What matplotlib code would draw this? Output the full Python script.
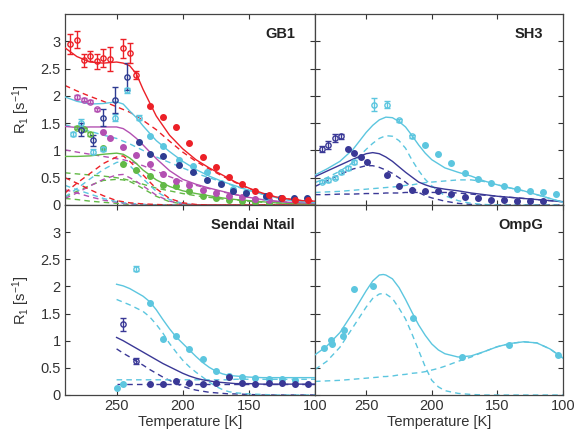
import matplotlib
matplotlib.use("Agg")
import matplotlib.pyplot as plt
import numpy as np

plt.rcParams['font.family'] = ['Liberation Sans', 'DejaVu Sans']
plt.rcParams['mathtext.fontset'] = 'custom'
plt.rcParams['mathtext.rm'] = 'Liberation Sans'
plt.rcParams['mathtext.it'] = 'Liberation Sans:italic'
plt.rcParams['mathtext.bf'] = 'Liberation Sans:bold'

RED = '#ec2027'
CYAN = '#5cc6df'
BLUE = '#2e3c92'
NAVY = '#3a3896'
MAG = '#b350b2'
GREEN = '#62b946'

# ---------------- GB1 ----------------
gb1_red_open_T = [285, 280, 275, 270, 265, 260, 255, 245, 240, 235]
gb1_red_open_R = [2.95, 3.03, 2.65, 2.73, 2.63, 2.69, 2.68, 2.87, 2.78, 2.38]
gb1_red_open_E = [0.18, 0.16, 0.12, 0.10, 0.14, 0.17, 0.22, 0.17, 0.18, 0.08]
gb1_red_fill_T = [225, 215, 205, 195, 185, 175, 165, 155, 145, 135, 125, 115, 105]
gb1_red_fill_R = [1.81, 1.62, 1.43, 1.14, 0.88, 0.70, 0.52, 0.38, 0.26, 0.18, 0.13, 0.10, 0.09]

gb1_blue_open_T = [277, 268, 260, 251, 242]
gb1_blue_open_R = [1.38, 1.19, 1.60, 1.93, 2.35]
gb1_blue_open_E = [0.12, 0.10, 0.16, 0.24, 0.25]
gb1_blue_fill_T = [233, 225, 215, 203, 192, 182, 171, 162, 152, 137, 126, 116, 106]
gb1_blue_fill_R = [1.16, 0.94, 0.89, 0.74, 0.60, 0.46, 0.38, 0.25, 0.22, 0.17, 0.13, 0.13, 0.13]

gb1_cyan_open_T = [283, 277, 268, 260, 251, 242, 233]
gb1_cyan_open_R = [1.30, 1.51, 0.98, 1.03, 1.60, 2.10, 1.60]
gb1_cyan_open_E = [0.04, 0.06, 0.04, 0.04, 0.06, 0.05, 0.05]
gb1_cyan_fill_T = [225, 215, 203, 192, 182, 171, 162, 152, 137, 126]
gb1_cyan_fill_R = [1.27, 1.09, 0.83, 0.72, 0.60, 0.41, 0.30, 0.23, 0.15, 0.12]

gb1_mag_open_T = [280, 275, 270, 265]
gb1_mag_open_R = [1.98, 1.93, 1.89, 1.75]
gb1_mag_open_E = [0.04, 0.03, 0.03, 0.03]
gb1_mag_fill_T = [260, 255, 245, 235, 225, 215, 205, 195, 185, 175, 165, 155, 145, 135]
gb1_mag_fill_R = [1.34, 1.22, 1.07, 0.91, 0.76, 0.57, 0.44, 0.36, 0.28, 0.22, 0.17, 0.14, 0.11, 0.09]

gb1_green_open_T = [280, 275, 270]
gb1_green_open_R = [1.42, 1.39, 1.30]
gb1_green_open_E = [0.03, 0.03, 0.03]
gb1_green_fill_T = [260, 245, 235, 225, 215, 205, 195, 185, 175, 165, 155, 145, 135]
gb1_green_fill_R = [1.04, 0.75, 0.64, 0.54, 0.36, 0.35, 0.26, 0.17, 0.12, 0.09, 0.07, 0.05, 0.04]

gb1_line_T = [289, 280, 270, 260, 250, 245, 240, 235, 230, 220, 210, 200, 190, 180,
              170, 160, 150, 140, 130, 120, 110, 100]
gb1_red_fit = [2.88, 2.72, 2.62, 2.60, 2.62, 2.60, 2.55, 2.40, 2.12, 1.63, 1.28, 1.03,
               0.83, 0.68, 0.55, 0.42, 0.31, 0.22, 0.15, 0.11, 0.08, 0.07]
gb1_cyan_fit = [1.98, 1.90, 1.85, 1.86, 1.89, 1.85, 1.72, 1.60, 1.45, 1.18, 0.98, 0.80,
                0.65, 0.53, 0.43, 0.35, 0.27, 0.20, 0.14, 0.09, 0.06, 0.04]
gb1_mag_fit = [1.44, 1.42, 1.43, 1.43, 1.43, 1.40, 1.32, 1.22, 1.10, 0.85, 0.63, 0.47,
               0.38, 0.31, 0.25, 0.19, 0.14, 0.10, 0.07, 0.05, 0.04, 0.03]
gb1_green_fit = [0.89, 0.89, 0.90, 0.93, 0.95, 0.93, 0.86, 0.76, 0.64, 0.46, 0.34, 0.26,
                 0.21, 0.17, 0.13, 0.10, 0.08, 0.06, 0.04, 0.03, 0.02, 0.02]

gb1_red_slow = [2.19, 2.09, 1.99, 1.90, 1.80, 1.75, 1.70, 1.63, 1.55, 1.38, 1.17, 0.97,
                0.80, 0.66, 0.53, 0.41, 0.30, 0.21, 0.15, 0.11, 0.08, 0.07]
gb1_cyan_slow = [1.47, 1.41, 1.35, 1.28, 1.22, 1.17, 1.12, 1.06, 1.00, 0.88, 0.78, 0.68,
                 0.58, 0.50, 0.42, 0.34, 0.27, 0.20, 0.14, 0.09, 0.06, 0.04]
gb1_mag_slow = [1.01, 0.97, 0.93, 0.89, 0.85, 0.83, 0.80, 0.76, 0.72, 0.62, 0.52, 0.43,
                0.36, 0.30, 0.24, 0.19, 0.14, 0.10, 0.07, 0.05, 0.04, 0.03]
gb1_green_slow = [0.59, 0.57, 0.55, 0.53, 0.50, 0.48, 0.45, 0.42, 0.38, 0.31, 0.26, 0.21,
                  0.17, 0.14, 0.11, 0.09, 0.07, 0.05, 0.04, 0.03, 0.02, 0.02]

gb1_red_peak = [0.22, 0.40, 0.58, 0.76, 0.88, 0.90, 0.80, 0.68, 0.55, 0.30, 0.12, 0.04,
                0.01, 0.0, 0.0, 0.0, 0.0, 0.0, 0.0, 0.0, 0.0, 0.0]
gb1_cyan_peak = [0.15, 0.30, 0.48, 0.65, 0.78, 0.80, 0.72, 0.60, 0.48, 0.25, 0.10, 0.03,
                 0.0, 0.0, 0.0, 0.0, 0.0, 0.0, 0.0, 0.0, 0.0, 0.0]
gb1_mag_peak = [0.12, 0.22, 0.35, 0.47, 0.55, 0.56, 0.50, 0.43, 0.35, 0.18, 0.07, 0.02,
                0.0, 0.0, 0.0, 0.0, 0.0, 0.0, 0.0, 0.0, 0.0, 0.0]
gb1_green_peak = [0.15, 0.25, 0.36, 0.45, 0.47, 0.46, 0.43, 0.37, 0.30, 0.16, 0.06, 0.02,
                  0.0, 0.0, 0.0, 0.0, 0.0, 0.0, 0.0, 0.0, 0.0, 0.0]

gb1_red_small = [0.50, 0.40, 0.28, 0.17, 0.08, 0.06, 0.04, 0.03, 0.02, 0.01, 0.0, 0.0,
                 0.0, 0.0, 0.0, 0.0, 0.0, 0.0, 0.0, 0.0, 0.0, 0.0]
gb1_cyan_small = [0.36, 0.28, 0.20, 0.12, 0.06, 0.04, 0.03, 0.02, 0.01, 0.0, 0.0, 0.0,
                  0.0, 0.0, 0.0, 0.0, 0.0, 0.0, 0.0, 0.0, 0.0, 0.0]
gb1_mag_small = [0.28, 0.22, 0.15, 0.09, 0.05, 0.03, 0.02, 0.01, 0.01, 0.0, 0.0, 0.0,
                 0.0, 0.0, 0.0, 0.0, 0.0, 0.0, 0.0, 0.0, 0.0, 0.0]
gb1_green_small = [0.12, 0.10, 0.07, 0.05, 0.03, 0.02, 0.01, 0.0, 0.0, 0.0, 0.0, 0.0,
                   0.0, 0.0, 0.0, 0.0, 0.0, 0.0, 0.0, 0.0, 0.0, 0.0]

# ---------------- SH3 ----------------
sh3_blue_open_T = [284, 279, 274, 269]
sh3_blue_open_R = [1.03, 1.10, 1.23, 1.26]
sh3_blue_open_E = [0.06, 0.07, 0.08, 0.05]
sh3_blue_fill_T = [264, 259, 254, 249, 234, 225, 215, 205, 195, 185, 175, 165, 155, 145, 135, 125, 115]
sh3_blue_fill_R = [1.03, 0.95, 0.88, 0.78, 0.55, 0.34, 0.28, 0.26, 0.25, 0.21, 0.15, 0.12,
                   0.10, 0.09, 0.08, 0.07, 0.07]

sh3_cyan_open_T = [284, 279, 274, 269, 264, 259, 244, 234, 225, 215]
sh3_cyan_open_R = [0.43, 0.46, 0.50, 0.60, 0.68, 0.79, 1.84, 1.84, 1.55, 1.26]
sh3_cyan_open_E = [0.03, 0.03, 0.03, 0.03, 0.03, 0.03, 0.12, 0.07, 0.03, 0.03]
sh3_cyan_fill_T = [205, 195, 185, 175, 165, 155, 145, 135, 125, 115, 105]
sh3_cyan_fill_R = [1.10, 0.94, 0.77, 0.58, 0.48, 0.40, 0.34, 0.29, 0.25, 0.23, 0.21]

sh3_line_T = [289, 280, 270, 260, 250, 245, 240, 235, 230, 225, 220, 215, 210, 205, 200,
              190, 180, 170, 160, 150, 140, 130, 120, 110, 100]
sh3_cyan_fit = [0.55, 0.66, 0.80, 1.02, 1.33, 1.46, 1.56, 1.61, 1.60, 1.53, 1.43, 1.27,
                1.10, 0.95, 0.83, 0.68, 0.60, 0.53, 0.44, 0.37, 0.31, 0.26, 0.19, 0.12, 0.05]
sh3_cyan_peak = [0.41, 0.50, 0.62, 0.78, 1.02, 1.13, 1.22, 1.27, 1.26, 1.18, 1.04, 0.82,
                 0.63, 0.47, 0.35, 0.17, 0.08, 0.03, 0.01, 0.0, 0.0, 0.0, 0.0, 0.0, 0.0]
sh3_cyan_slow = [0.23, 0.24, 0.25, 0.27, 0.29, 0.30, 0.31, 0.32, 0.33, 0.34, 0.36, 0.37,
                 0.39, 0.41, 0.42, 0.44, 0.46, 0.46, 0.43, 0.37, 0.31, 0.26, 0.19, 0.12, 0.05]
sh3_blue_fit = [0.52, 0.62, 0.73, 0.84, 0.94, 0.96, 0.94, 0.88, 0.80, 0.70, 0.60, 0.51,
                0.42, 0.37, 0.33, 0.29, 0.26, 0.22, 0.19, 0.16, 0.14, 0.12, 0.10, 0.08, 0.06]
sh3_blue_peak = [0.34, 0.44, 0.56, 0.66, 0.72, 0.72, 0.69, 0.64, 0.58, 0.50, 0.42, 0.32,
                 0.23, 0.17, 0.13, 0.07, 0.03, 0.01, 0.0, 0.0, 0.0, 0.0, 0.0, 0.0, 0.0]
sh3_blue_slow = [0.19, 0.19, 0.20, 0.20, 0.21, 0.21, 0.21, 0.22, 0.22, 0.22, 0.23, 0.23,
                 0.23, 0.23, 0.23, 0.23, 0.22, 0.20, 0.18, 0.16, 0.14, 0.12, 0.10, 0.08, 0.06]

# ---------------- Sendai Ntail ----------------
sen_cyan_open_T = [235]
sen_cyan_open_R = [2.33]
sen_cyan_open_E = [0.05]
sen_cyan_fill_T = [250, 245, 225, 215, 205, 195, 185, 175, 165, 155, 145, 135, 125, 115]
sen_cyan_fill_R = [0.12, 0.20, 1.69, 1.03, 1.09, 0.85, 0.67, 0.44, 0.35, 0.34, 0.32, 0.29, 0.29, 0.28]
sen_blue_open_T = [245, 235]
sen_blue_open_R = [1.30, 0.63]
sen_blue_open_E = [0.12, 0.05]
sen_blue_fill_T = [225, 215, 205, 195, 185, 175, 165, 155, 145, 135, 125, 115, 105]
sen_blue_fill_R = [0.21, 0.21, 0.26, 0.23, 0.21, 0.22, 0.33, 0.22, 0.21, 0.22, 0.22, 0.21, 0.21]

sen_line_T = [250, 245, 240, 235, 230, 225, 220, 215, 210, 205, 200, 195, 190, 185, 180,
              175, 170, 165, 160, 150, 140, 130, 120, 110, 100]
sen_cyan_fit = [2.04, 2.01, 1.96, 1.89, 1.82, 1.72, 1.57, 1.39, 1.22, 1.07, 0.95, 0.83,
                0.71, 0.60, 0.51, 0.44, 0.39, 0.36, 0.35, 0.33, 0.32, 0.32, 0.32, 0.32, 0.32]
sen_cyan_fast = [1.76, 1.71, 1.66, 1.60, 1.54, 1.44, 1.30, 1.14, 0.95, 0.79, 0.64, 0.52,
                 0.42, 0.33, 0.24, 0.16, 0.10, 0.06, 0.04, 0.02, 0.01, 0.0, 0.0, 0.0, 0.0]
sen_cyan_flat = [0.28, 0.28, 0.28, 0.28, 0.28, 0.28, 0.28, 0.28, 0.28, 0.28, 0.28, 0.28,
                 0.28, 0.28, 0.28, 0.28, 0.28, 0.28, 0.29, 0.29, 0.29, 0.29, 0.29, 0.29, 0.29]
sen_blue_fit = [1.06, 1.00, 0.93, 0.86, 0.79, 0.72, 0.65, 0.58, 0.52, 0.46, 0.40, 0.35,
                0.31, 0.28, 0.26, 0.24, 0.23, 0.22, 0.21, 0.21, 0.20, 0.20, 0.20, 0.20, 0.20]
sen_blue_fast = [0.85, 0.77, 0.70, 0.62, 0.55, 0.47, 0.40, 0.33, 0.27, 0.21, 0.16, 0.12,
                 0.09, 0.07, 0.05, 0.04, 0.03, 0.02, 0.02, 0.01, 0.0, 0.0, 0.0, 0.0, 0.0]
sen_blue_flat = [0.20] * 25

# ---------------- OmpG ----------------
omp_fill_T = [282, 277, 276, 268, 267, 259, 245, 214, 177, 141, 104]
omp_fill_R = [0.87, 1.01, 0.94, 1.09, 1.20, 1.95, 2.01, 1.41, 0.70, 0.93, 0.74]
omp_line_T = [289, 280, 270, 260, 250, 245, 240, 237, 235, 230, 225, 220, 215, 210, 205,
              200, 195, 190, 180, 170, 160, 150, 140, 130, 120, 110, 100]
omp_fit = [0.74, 0.90, 1.15, 1.52, 1.92, 2.10, 2.21, 2.22, 2.21, 2.14, 1.98, 1.76, 1.52,
           1.29, 1.10, 0.94, 0.83, 0.76, 0.70, 0.72, 0.80, 0.89, 0.95, 0.98, 0.96, 0.85, 0.68]
omp_peak = [0.47, 0.62, 0.88, 1.25, 1.62, 1.78, 1.86, 1.87, 1.86, 1.78, 1.60, 1.40, 1.12,
            0.82, 0.52, 0.27, 0.15, 0.08, 0.03, 0.01, 0.0, 0.0, 0.0, 0.0, 0.0, 0.0, 0.0]
omp_slow = [0.25, 0.26, 0.27, 0.29, 0.31, 0.32, 0.33, 0.34, 0.34, 0.35, 0.37, 0.38, 0.40,
            0.41, 0.43, 0.46, 0.49, 0.53, 0.62, 0.70, 0.80, 0.89, 0.95, 0.98, 0.96, 0.85, 0.68]

titles = ['GB1', 'SH3', 'Sendai Ntail', 'OmpG']
yticks = [0, 0.5, 1, 1.5, 2, 2.5, 3]
ytick_labels = ['0', '0.5', '1', '1.5', '2', '2.5', '3']
xticks = [250, 200, 150, 100]

fig = plt.figure(figsize=(5.76, 4.29), dpi=100)
L, M, R_ = 65 / 576, 315 / 576, 563 / 576
B, C, T_ = 1 - 395 / 429, 1 - 205 / 429, 1 - 14 / 429
axes = [fig.add_axes([L, C, M - L, T_ - C]), fig.add_axes([M, C, R_ - M, T_ - C]),
        fig.add_axes([L, B, M - L, C - B]), fig.add_axes([M, B, R_ - M, C - B])]

LW = 1.0
DASH = (0, (4, 3))


def pts(ax, To, Ro, Eo, Tf, Rf, color):
    if To:
        ax.errorbar(To, Ro, yerr=Eo, fmt='o', ms=3.8, mfc='none', mec=color, mew=1.0,
                    ecolor=color, elinewidth=1.0, capsize=2, color=color, zorder=4)
    if Tf:
        ax.plot(Tf, Rf, 'o', ms=4.0, color=color, mec=color, zorder=4)


def lines(ax, Tl, fit, dashes, color):
    ax.plot(Tl, fit, '-', color=color, lw=LW, zorder=3)
    for d in dashes:
        ax.plot(Tl, d, color=color, lw=LW, linestyle=DASH, zorder=2)


a = axes[0]
lines(a, gb1_line_T, gb1_green_fit, [gb1_green_slow, gb1_green_peak, gb1_green_small], GREEN)
lines(a, gb1_line_T, gb1_mag_fit, [gb1_mag_slow, gb1_mag_peak, gb1_mag_small], MAG)
lines(a, gb1_line_T, gb1_cyan_fit, [gb1_cyan_slow, gb1_cyan_peak, gb1_cyan_small], CYAN)
lines(a, gb1_line_T, gb1_red_fit, [gb1_red_slow, gb1_red_peak, gb1_red_small], RED)
pts(a, gb1_green_open_T, gb1_green_open_R, gb1_green_open_E, gb1_green_fill_T, gb1_green_fill_R, GREEN)
pts(a, gb1_mag_open_T, gb1_mag_open_R, gb1_mag_open_E, gb1_mag_fill_T, gb1_mag_fill_R, MAG)
pts(a, gb1_cyan_open_T, gb1_cyan_open_R, gb1_cyan_open_E, gb1_cyan_fill_T, gb1_cyan_fill_R, CYAN)
pts(a, gb1_blue_open_T, gb1_blue_open_R, gb1_blue_open_E, gb1_blue_fill_T, gb1_blue_fill_R, BLUE)
pts(a, gb1_red_open_T, gb1_red_open_R, gb1_red_open_E, gb1_red_fill_T, gb1_red_fill_R, RED)

a = axes[1]
lines(a, sh3_line_T, sh3_blue_fit, [sh3_blue_peak, sh3_blue_slow], NAVY)
lines(a, sh3_line_T, sh3_cyan_fit, [sh3_cyan_peak, sh3_cyan_slow], CYAN)
pts(a, sh3_cyan_open_T, sh3_cyan_open_R, sh3_cyan_open_E, sh3_cyan_fill_T, sh3_cyan_fill_R, CYAN)
pts(a, sh3_blue_open_T, sh3_blue_open_R, sh3_blue_open_E, sh3_blue_fill_T, sh3_blue_fill_R, NAVY)

a = axes[2]
lines(a, sen_line_T, sen_blue_fit, [sen_blue_fast, sen_blue_flat], NAVY)
lines(a, sen_line_T, sen_cyan_fit, [sen_cyan_fast, sen_cyan_flat], CYAN)
pts(a, sen_cyan_open_T, sen_cyan_open_R, sen_cyan_open_E, sen_cyan_fill_T, sen_cyan_fill_R, CYAN)
pts(a, sen_blue_open_T, sen_blue_open_R, sen_blue_open_E, sen_blue_fill_T, sen_blue_fill_R, NAVY)

a = axes[3]
lines(a, omp_line_T, omp_fit, [omp_peak, omp_slow], CYAN)
pts(a, [], [], [], omp_fill_T, omp_fill_R, CYAN)

for i, a in enumerate(axes):
    a.set_xlim(289, 100)
    a.set_ylim(0, 3.5)
    a.set_xticks(xticks)
    a.set_yticks(yticks)
    a.set_yticklabels(ytick_labels)
    a.tick_params(direction='in', length=3.5, width=0.8, top=True, right=True,
                  labelsize=10.5, colors='#333333', pad=3)
    for s in a.spines.values():
        s.set_color('#444444')
        s.set_linewidth(0.9)
    if i in (1, 3):
        a.tick_params(labelleft=False)
    else:
        a.set_ylabel('R$_1$ [s$^{-1}$]', fontsize=10.5, color='#333333', labelpad=6)
    if i in (0, 1):
        a.tick_params(labelbottom=False)
    else:
        a.set_xlabel('Temperature [K]', fontsize=10.5, color='#333333', labelpad=1)
    a.text(0.92, 0.93, titles[i], transform=a.transAxes, ha='right', va='top',
           fontsize=10.5, fontweight='bold', color='#222222')

fig.savefig('out.png', dpi=100)
